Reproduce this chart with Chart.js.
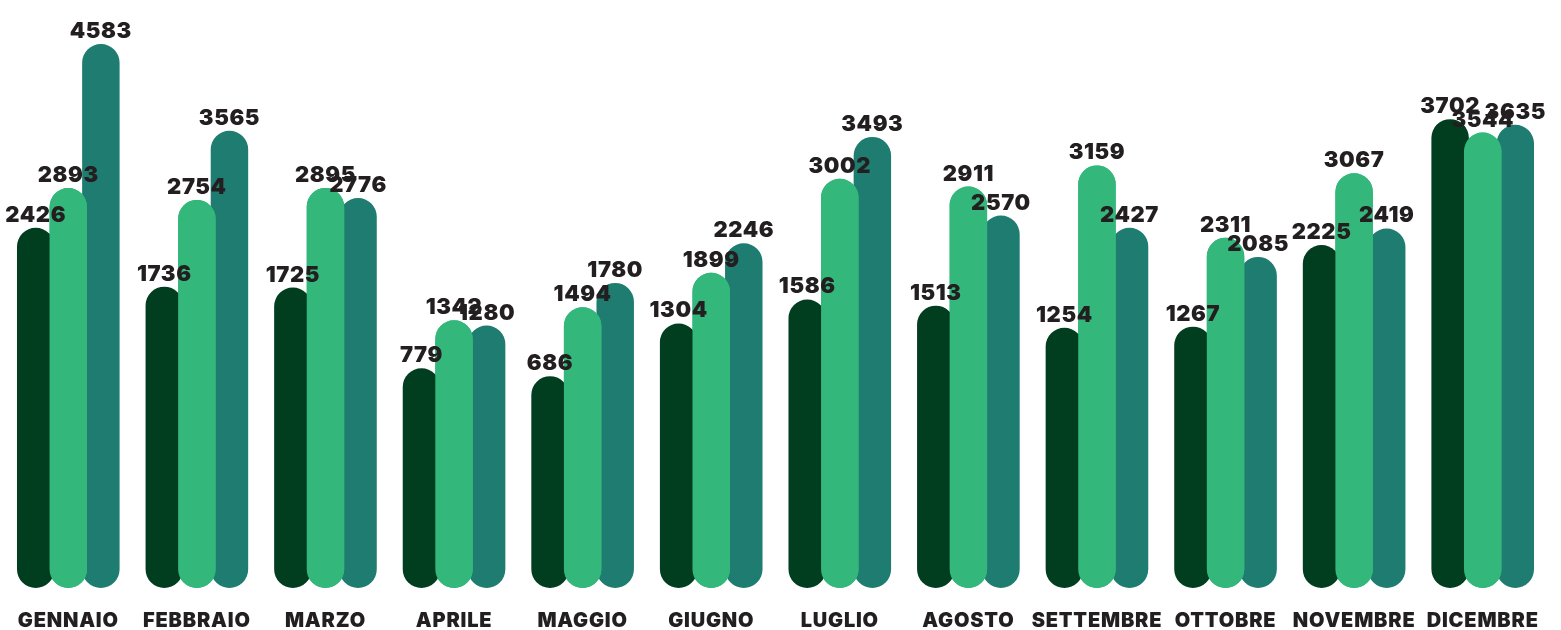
<!DOCTYPE html>
<html>
<head>
<meta charset="utf-8">
<script src="https://cdn.jsdelivr.net/npm/chart.js@4/dist/chart.umd.min.js"></script>
<style>
  html, body { margin: 0; padding: 0; background: #fff; }
  #wrap { width: 1561px; height: 630px; position: relative; }
</style>
</head>
<body>
<div id="wrap"><canvas id="grafico"></canvas></div>
<script>
// Dati
const mesi = ["GENNAIO", "FEBBRAIO", "MARZO", "APRILE", "MAGGIO", "GIUGNO", "LUGLIO", "AGOSTO", "SETTEMBRE", "OTTOBRE", "NOVEMBRE", "DICEMBRE"];
const serieScura = [2426, 1736, 1725, 779, 686, 1304, 1586, 1513, 1254, 1267, 2225, 3702];
const serieChiara = [2893, 2754, 2895, 1342, 1494, 1899, 3002, 2911, 3159, 2311, 3067, 3544];
const serieTeal = [4583, 3565, 2776, 1280, 1780, 2246, 3493, 2570, 2427, 2085, 2419, 3635];

const BASE = -1800;

// lettere un po' spaziate come nell'originale
const spaziatura = {
  id: "spaziatura",
  beforeDraw(chart) {
    chart.ctx.letterSpacing = "0.8px";
  }
};

// la barra centrale sta sopra le altre, poi i numeri
const etichette = {
  id: "etichette",
  afterDatasetsDraw(chart) {
    chart.getDatasetMeta(1).controller.draw();
    const ctx = chart.ctx;
    ctx.save();
    ctx.letterSpacing = "0.6px";
    ctx.font = "900 22px Inter";
    ctx.fillStyle = "#231f20";
    ctx.textAlign = "center";
    ctx.textBaseline = "alphabetic";
    chart.data.datasets.forEach((ds, i) => {
      chart.getDatasetMeta(i).data.forEach((bar, j) => {
        ctx.fillText(ds.data[j], bar.x, bar.y - 6);
      });
    });
    ctx.restore();
  }
};

function serie(label, data, colore) {
  return {
    label,
    data,
    base: BASE,
    backgroundColor: colore,
    borderSkipped: false,
    borderRadius: 999,
    categoryPercentage: 0.76,
    barPercentage: 1.15
  };
}

new Chart(document.getElementById("grafico"), {
  type: "bar",
  data: {
    labels: mesi,
    datasets: [
      serie("Serie 1", serieScura, "#013d1f"),
      serie("Serie 2", serieChiara, "#33b77a"),
      serie("Serie 3", serieTeal, "#1f7c70")
    ]
  },
  options: {
    responsive: true,
    maintainAspectRatio: false,
    animation: false,
    layout: { padding: { left: 4, right: 14, top: 0, bottom: 0 } },
    plugins: { legend: { display: false }, tooltip: { enabled: false } },
    scales: {
      x: {
        grid: { display: false },
        border: { display: false },
        afterFit(scale) { scale.height = 42; },
        ticks: {
          color: "#231f20",
          font: { family: "Inter", weight: 900, size: 20 },
          padding: 13,
          maxRotation: 0,
          autoSkip: false
        }
      },
      y: {
        display: false,
        min: BASE,
        max: 5100
      }
    }
  },
  plugins: [spaziatura, etichette]
});
</script>
</body>
</html>
